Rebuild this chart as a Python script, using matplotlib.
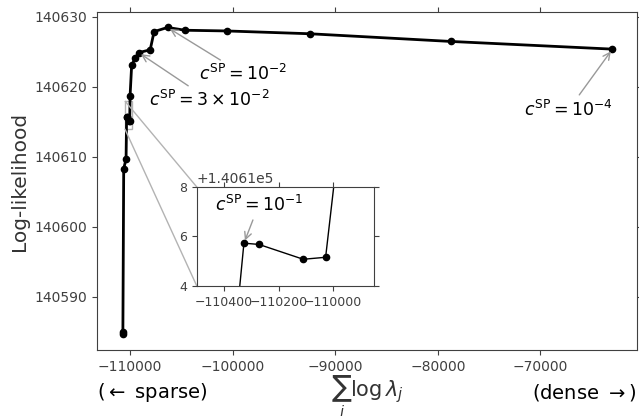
import matplotlib
matplotlib.use("Agg")
import matplotlib.pyplot as plt
from mpl_toolkits.axes_grid1.inset_locator import mark_inset

# sum_i log(lambda_j) vs log-likelihood, ordered from dense (small c) to sparse
sum_log_lambda = [-62980, -78740, -92500, -100580, -104630, -106340, -107650,
                  -108030, -109155, -109485, -109835, -109990, -110027, -110109,
                  -110272, -110327, -110380, -110610, -110690, -110700]
log_lik = [140625.4, 140626.5, 140627.6, 140628.0, 140628.1, 140628.5, 140627.9,
           140625.3, 140624.9, 140624.1, 140623.1, 140618.7, 140615.16, 140615.08,
           140615.68, 140615.73, 140609.7, 140608.3, 140585.0, 140584.6]

# annotated points: (label, index into the series)
labels = [r"$c^{\mathrm{SP}} = 10^{-4}$", r"$c^{\mathrm{SP}} = 10^{-2}$",
          r"$c^{\mathrm{SP}} = 3\times10^{-2}$"]
label_idx = [0, 5, 8]
label_xytext = [(-67280, 140616.7), (-98930, 140621.8), (-102230, 140618.1)]
inset_label = r"$c^{\mathrm{SP}} = 10^{-1}$"
inset_idx = 15

plt.rcParams["xtick.top"] = True
plt.rcParams["ytick.right"] = True
plt.rcParams["xtick.color"] = "0.25"
plt.rcParams["ytick.color"] = "0.25"
plt.rcParams["axes.edgecolor"] = "0.25"

fig = plt.figure(figsize=(6.39, 4.16), dpi=100)
ax = fig.add_axes([0.152, 0.159, 0.845, 0.812])
ax.plot(sum_log_lambda, log_lik, "-o", color="k", lw=2, ms=4.5)
ax.set_xlim(-113200, -60580)
ax.set_ylim(140582.4, 140630.7)
ax.tick_params(labelsize=10)
ax.set_ylabel("Log-likelihood", fontsize=14.5, color="0.2")
ax.set_xlabel(r"$\sum_i \log \lambda_j$", fontsize=15, color="0.2", labelpad=0)
ax.text(0, -0.127, r"($\leftarrow$ sparse)", transform=ax.transAxes,
        ha="left", va="center", fontsize=14)
ax.text(1, -0.127, r"(dense $\rightarrow$)", transform=ax.transAxes,
        ha="right", va="center", fontsize=14)

for lab, i, xyt in zip(labels, label_idx, label_xytext):
    ax.annotate(lab, xy=(sum_log_lambda[i], log_lik[i]), xytext=xyt,
                ha="center", va="center", fontsize=12.5,
                arrowprops=dict(arrowstyle="->", color="0.6"))

axins = fig.add_axes([0.308, 0.3125, 0.277, 0.238])
axins.plot(sum_log_lambda, log_lik, "-o", color="k", lw=1, ms=4.5)
axins.set_xlim(-110500, -109850)
axins.set_ylim(140614, 140618)
axins.set_xticks([-110400, -110200, -110000])
axins.set_yticks([140614, 140616, 140618])
axins.tick_params(labelsize=9)
axins.annotate(inset_label, xy=(sum_log_lambda[inset_idx], log_lik[inset_idx]),
               xytext=(-110272, 140617.29), ha="center", va="center", fontsize=12.5,
               arrowprops=dict(arrowstyle="->", color="0.6"))
mark_inset(ax, axins, loc1=2, loc2=3, fc="none", ec="0.7")

fig.savefig("out.png", dpi=100)
